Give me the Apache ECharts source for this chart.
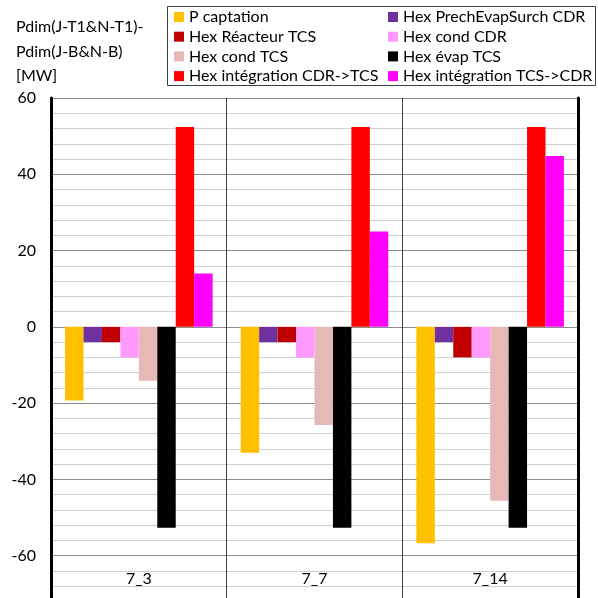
<!DOCTYPE html>
<html>
<head>
<meta charset="utf-8">
<script src="https://cdn.jsdelivr.net/npm/echarts@6/dist/echarts.min.js"></script>
<style>
html,body{margin:0;padding:0;background:#fff;}
#chart{width:598px;height:598px;}
</style>
</head>
<body>
<div id="chart"></div>
<script>
var categories = ['7_3', '7_7', '7_14'];
var seriesNames = [
  'P captation',
  'Hex PrechEvapSurch CDR',
  'Hex Réacteur TCS',
  'Hex cond CDR',
  'Hex cond TCS',
  'Hex évap TCS',
  'Hex intégration CDR->TCS',
  'Hex intégration TCS->CDR'
];
var pCaptation = [-19.3, -33, -56.7];
var hexPrech = [-4, -4, -4];
var hexReacteur = [-4, -4, -8];
var hexCondCDR = [-8, -8, -8];
var hexCondTCS = [-14.1, -25.7, -45.6];
var hexEvapTCS = [-52.7, -52.7, -52.7];
var hexIntCDRTCS = [52.4, 52.4, 52.4];
var hexIntTCSCDR = [14, 25, 44.8];
var seriesColors = ['#FFC000', '#7030A0', '#C00000', '#FF99FF', '#E6B9B8', '#000000', '#FF0000', '#FF00FF'];
var yTicks = {min: -80, max: 60, interval: 20};
var titleText = 'Pdim(J-T1&N-T1)-\nPdim(J-B&N-B)\n[MW]';

var allData = [pCaptation, hexPrech, hexReacteur, hexCondCDR, hexCondTCS, hexEvapTCS, hexIntCDRTCS, hexIntTCSCDR];
var FONT = 'Lato';

var series = seriesNames.map(function (name, i) {
  return {
    name: name,
    type: 'bar',
    data: allData[i],
    barGap: '0%',
    barCategoryGap: '16%',
    itemStyle: {color: seriesColors[i]},
    yAxisIndex: 0
  };
});

var legendCommon = {
  orient: 'vertical',
  itemWidth: 10,
  itemHeight: 10,
  itemGap: 1.7,
  icon: 'rect',
  selectedMode: false,
  textStyle: {fontFamily: FONT, fontSize: 16, color: '#000', lineHeight: 18},
  padding: 0
};

var chart = echarts.init(document.getElementById('chart'), null, {renderer: 'canvas'});
chart.setOption({
  animation: false,
  backgroundColor: '#fff',
  textStyle: {fontFamily: FONT},
  title: {
    text: titleText,
    left: 16,
    top: 15,
    padding: 0,
    textStyle: {fontFamily: FONT, fontSize: 16, fontWeight: 'normal', color: '#000', lineHeight: 24.5}
  },
  legend: [
    Object.assign({}, legendCommon, {left: 174, top: 8, data: seriesNames.filter(function (n, i) { return i % 2 === 0; })}),
    Object.assign({}, legendCommon, {left: 388, top: 8, data: seriesNames.filter(function (n, i) { return i % 2 === 1; })})
  ],
  graphic: [{
    type: 'rect',
    shape: {x: 167.5, y: 6.5, width: 428, height: 79},
    style: {fill: null, stroke: '#404040', lineWidth: 1},
    z: 10
  }],
  grid: {left: 51, right: 20, top: 98, bottom: -34, outerBoundsMode: 'none', containLabel: false},
  xAxis: {
    type: 'category',
    data: categories,
    axisLine: {show: false},
    axisTick: {show: false},
    splitLine: {show: true, lineStyle: {color: '#404040', width: 1}},
    axisLabel: {inside: true, margin: 45, fontSize: 16, color: '#000', fontFamily: FONT}
  },
  yAxis: [{
    type: 'value',
    min: yTicks.min,
    max: yTicks.max,
    interval: yTicks.interval,
    axisLine: {show: true, onZero: false, lineStyle: {color: '#000', width: 3}},
    axisTick: {show: false},
    minorTick: {show: false, splitNumber: 5},
    axisLabel: {fontSize: 16, color: '#000', margin: 15, fontFamily: FONT},
    splitLine: {show: true, lineStyle: {color: '#8c8c8c', width: 1}},
    minorSplitLine: {show: true, lineStyle: {color: '#d0d0d0', width: 1}}
  }, {
    type: 'value',
    position: 'right',
    min: 0,
    max: 1,
    axisLine: {show: true, lineStyle: {color: '#000', width: 3}},
    axisTick: {show: false},
    axisLabel: {show: false},
    splitLine: {show: false}
  }],
  series: series
});
</script>
</body>
</html>
